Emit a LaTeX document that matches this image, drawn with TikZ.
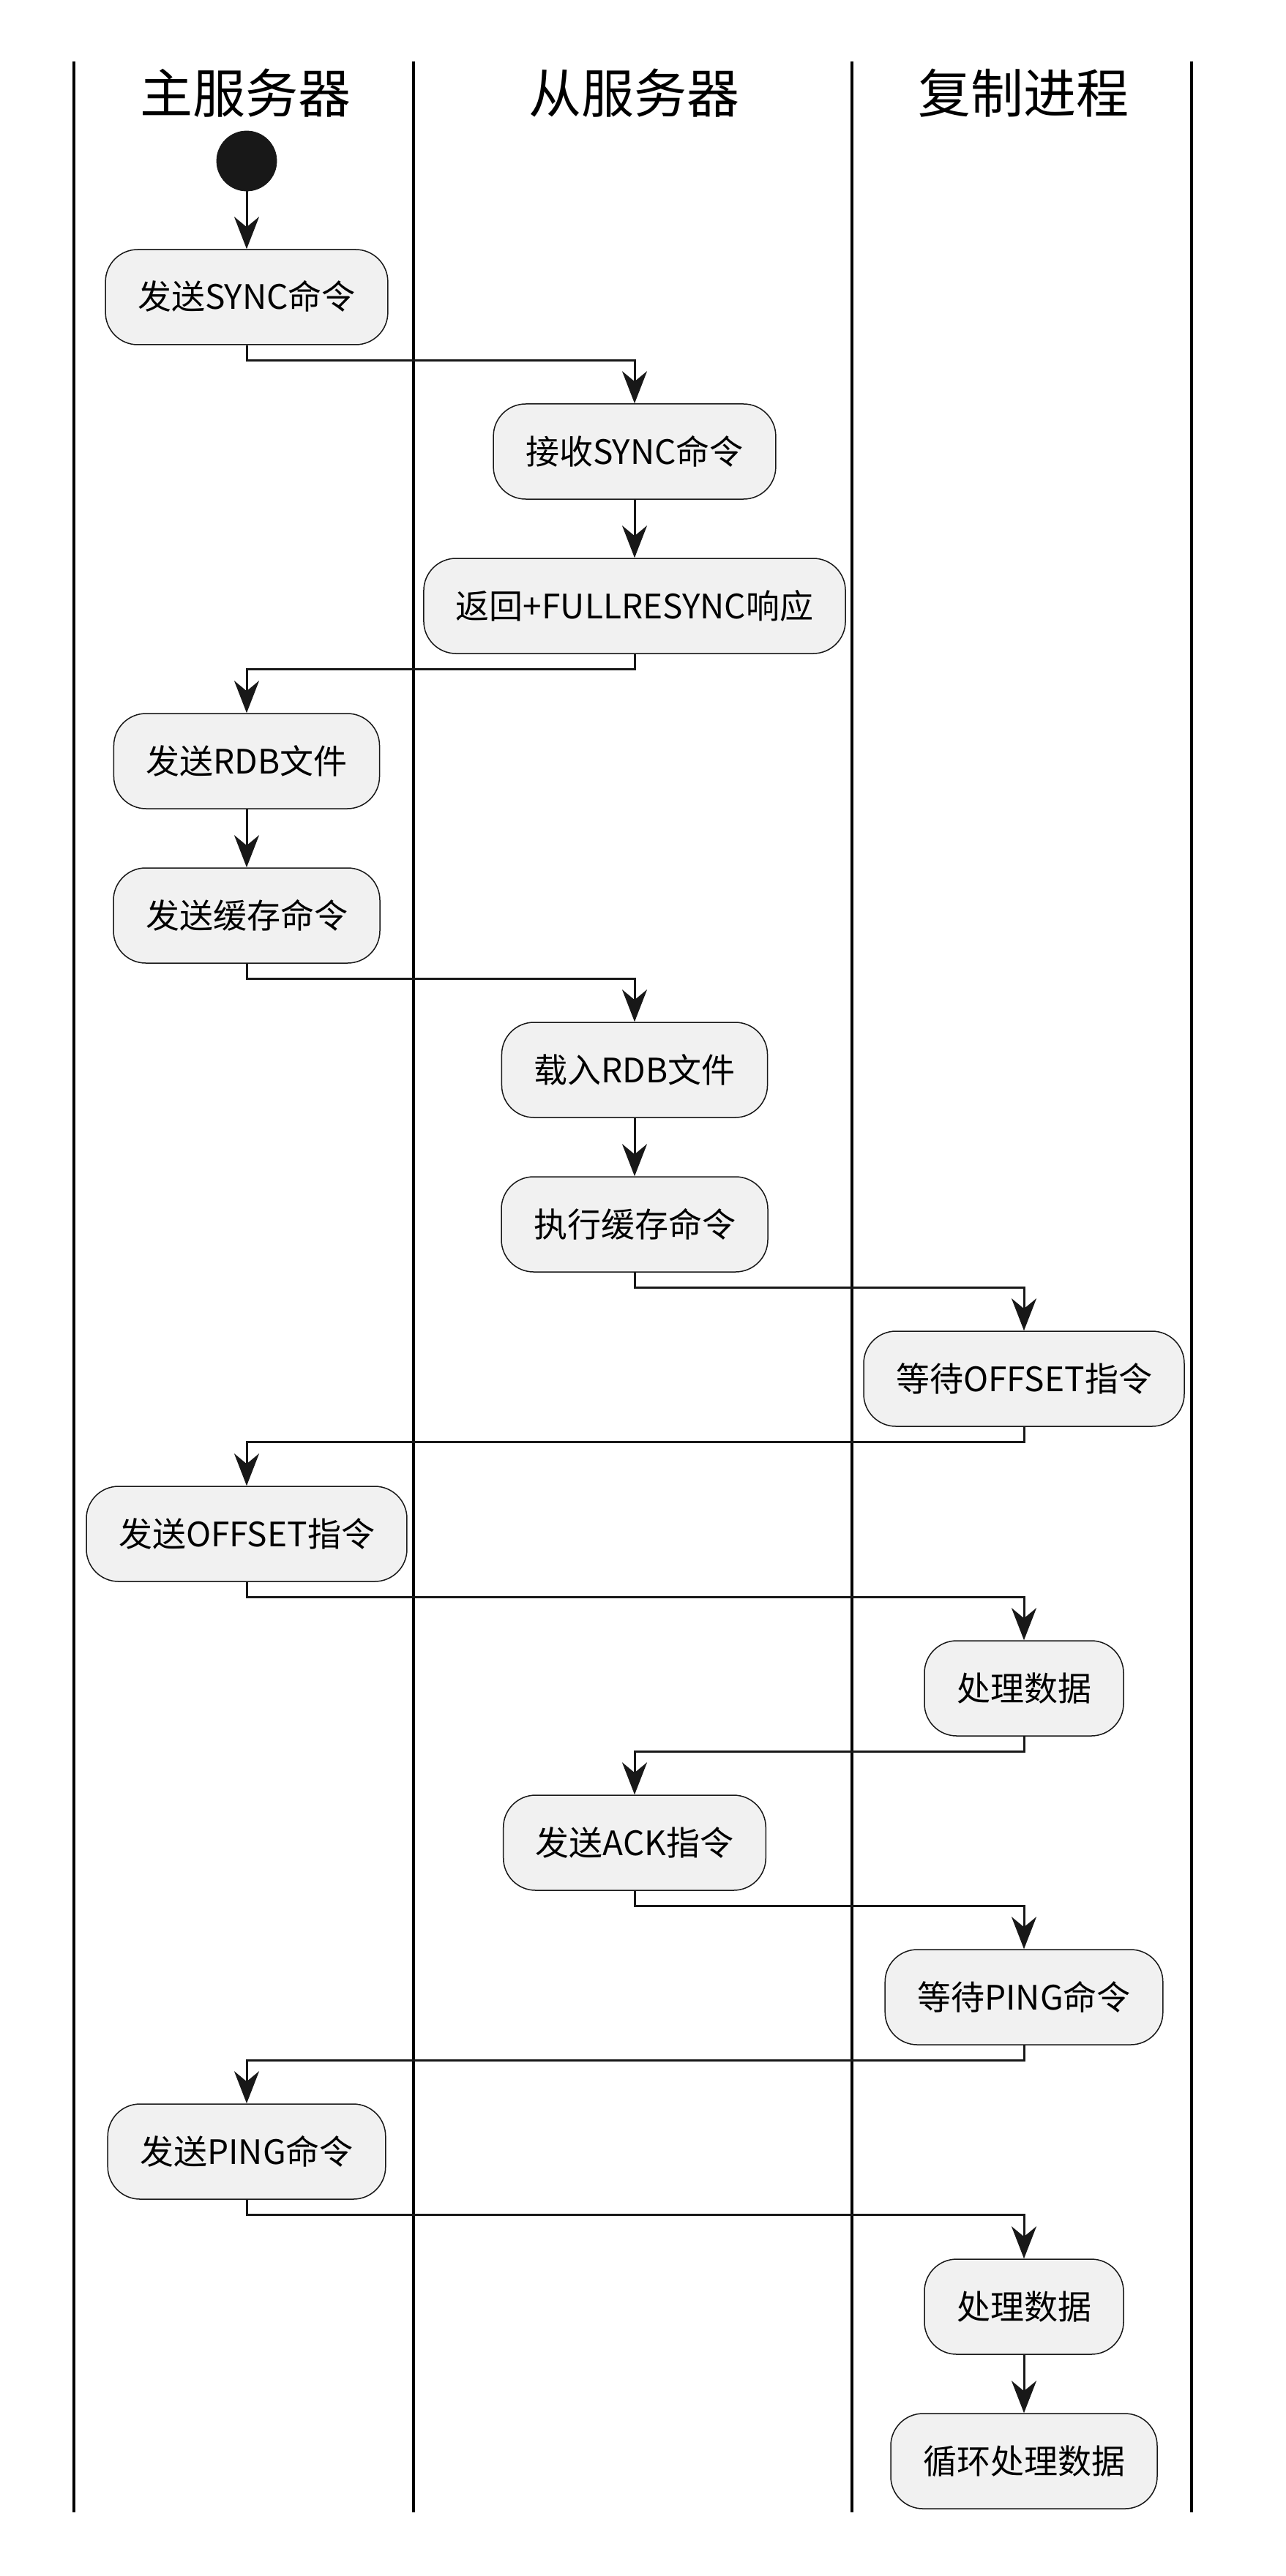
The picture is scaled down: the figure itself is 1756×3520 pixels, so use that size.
\documentclass[tikz,border=0pt]{standalone}
\usepackage{fontspec}
\setmainfont{Noto Sans CJK SC}
\usetikzlibrary{arrows.meta}
\definecolor{nodefill}{HTML}{F1F1F1}
\definecolor{ink}{HTML}{181818}
\begin{document}
\begin{tikzpicture}[x=0.5pt,y=-0.5pt,
  act/.style={draw=ink, line width=0.75pt, fill=nodefill, rounded corners=22pt,
    minimum height=65pt, inner xsep=22pt, text height=17pt, text depth=0pt,
    font=\fontsize{23}{28}\selectfont, text=black},
  flow/.style={draw=ink, line width=1.5pt, -{Stealth[length=22pt,width=17pt,inset=7pt]}},
  lane/.style={line width=2.2pt, black},
  head/.style={font=\fontsize{36}{42}\selectfont, text height=26.6pt, text depth=0pt, inner sep=0pt}]
\useasboundingbox (0,0) rectangle (1756,3520);
% swimlane lines
\draw[lane] (101,84) -- (101,3433);
\draw[lane] (565,84) -- (565,3433);
\draw[lane] (1164,84) -- (1164,3433);
\draw[lane] (1628,84) -- (1628,3433);
% headers
\node[head] (h1) at (335,128) {主服务器};
\node[head] (h2) at (866,128) {从服务器};
\node[head] (h3) at (1398,128) {复制进程};
% start
\node[circle, fill=ink, draw=ink, minimum size=41pt, inner sep=0pt] (start) at (337,220) {};
% activities
\node[act] (a1) at (337,406)  {发送SYNC命令};
\node[act] (b1) at (867,617)  {接收SYNC命令};
\node[act] (b2) at (867,828)  {返回+FULLRESYNC响应};
\node[act] (a2) at (337,1040) {发送RDB文件};
\node[act] (a3) at (337,1251) {发送缓存命令};
\node[act] (b3) at (867,1462) {载入RDB文件};
\node[act] (b4) at (867,1673) {执行缓存命令};
\node[act] (c1) at (1399,1884) {等待OFFSET指令};
\node[act] (a4) at (337,2096) {发送OFFSET指令};
\node[act] (c2) at (1399,2307) {处理数据};
\node[act] (b5) at (867,2518) {发送ACK指令};
\node[act] (c3) at (1399,2729) {等待PING命令};
\node[act] (a5) at (337,2940) {发送PING命令};
\node[act] (c4) at (1399,3152) {处理数据};
\node[act] (c5) at (1399,3363) {循环处理数据};
% flows
\draw[flow] (start) -- (a1);
\draw[flow] (a1.south) -- ++(0,21) -| (b1.north);
\draw[flow] (b1) -- (b2);
\draw[flow] (b2.south) -- ++(0,21) -| (a2.north);
\draw[flow] (a2) -- (a3);
\draw[flow] (a3.south) -- ++(0,21) -| (b3.north);
\draw[flow] (b3) -- (b4);
\draw[flow] (b4.south) -- ++(0,21) -| (c1.north);
\draw[flow] (c1.south) -- ++(0,21) -| (a4.north);
\draw[flow] (a4.south) -- ++(0,21) -| (c2.north);
\draw[flow] (c2.south) -- ++(0,21) -| (b5.north);
\draw[flow] (b5.south) -- ++(0,21) -| (c3.north);
\draw[flow] (c3.south) -- ++(0,21) -| (a5.north);
\draw[flow] (a5.south) -- ++(0,21) -| (c4.north);
\draw[flow] (c4) -- (c5);
\end{tikzpicture}
\end{document}
